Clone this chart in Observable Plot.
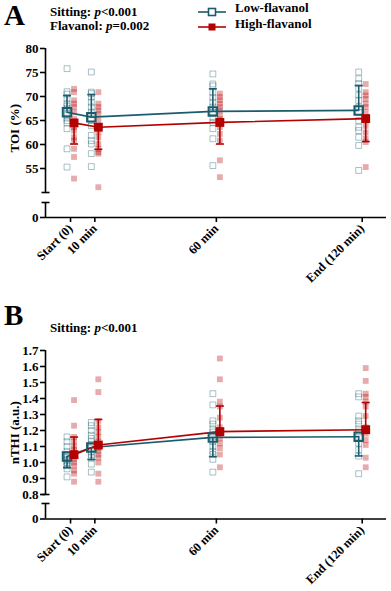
<!DOCTYPE html>
<html><head><meta charset="utf-8">
<script src="https://cdn.jsdelivr.net/npm/d3@7"></script>
<script src="https://cdn.jsdelivr.net/npm/@observablehq/plot@0.6"></script>
<style>
body{margin:0;background:#fff;}
#root{position:relative;width:391px;height:591px;font-family:"Liberation Serif","Times New Roman",serif;font-weight:bold;color:#000;overflow:hidden}
#root svg, #root svg text{font-family:"Liberation Serif","Times New Roman",serif !important;font-weight:bold}
.abs{position:absolute;white-space:nowrap;line-height:1}
.abs svg{display:block}
</style></head><body><div id="root"></div>
<script>
// ---------- data ----------
const times = [0, 10, 60, 120];
const timeLabels = ["Start (0)", "10 min", "60 min", "End (120 min)"];
const seriesNames = ["Low-flavanol", "High-flavanol"];

// Panel A: TOI (%)
const toiLowMean = [66.7, 65.7, 66.9, 67.1];
const toiLowSD = [3.5, 4.7, 4.7, 5.2];
const toiHighMean = [64.5, 63.6, 64.6, 65.4];
const toiHighSD = [4.4, 4.6, 4.5, 4.8];
const toiLowPoints = [
  [75.8, 71.0, 70.5, 69.5, 68.5, 68.0, 67.5, 66.5, 66.0, 65.5, 65.0, 64.5, 63.3, 59.1, 55.3],
  [75.1, 70.9, 70.6, 69.9, 68.8, 67.8, 66.7, 65.0, 63.9, 61.9, 60.8, 60.1, 58.1, 55.4],
  [74.7, 72.6, 72.2, 70.8, 69.8, 68.8, 67.8, 66.7, 65.6, 64.6, 63.3, 61.2, 55.6],
  [75.1, 73.7, 72.7, 71.7, 70.3, 69.2, 67.8, 66.7, 65.0, 63.6, 62.9, 61.5, 59.8, 54.6]
];
const toiHighPoints = [
  [71.6, 70.9, 69.2, 68.5, 67.8, 66.7, 65.3, 64.3, 63.6, 62.9, 61.5, 60.8, 59.1, 57.4, 52.9],
  [70.9, 68.5, 67.8, 67.1, 66.4, 65.0, 63.6, 62.6, 61.5, 60.1, 59.1, 58.4, 58.1, 51.1],
  [70.6, 69.9, 69.2, 68.5, 67.8, 67.1, 66.0, 65.3, 63.6, 62.2, 60.8, 56.7, 53.2],
  [72.6, 70.9, 70.2, 69.5, 68.5, 67.8, 66.7, 65.3, 63.9, 62.5, 61.2, 60.5, 55.3]
];
const toiTicks = [0, 55, 60, 65, 70, 75, 80];

// Panel B: nTHI (a.u.)
const nthiLowMean = [1.038, 1.094, 1.157, 1.161];
const nthiLowSD = [0.07, 0.075, 0.12, 0.12];
const nthiHighMean = [1.049, 1.109, 1.193, 1.205];
const nthiHighSD = [0.11, 0.16, 0.16, 0.17];
const nthiLowPoints = [
  [1.16, 1.13, 1.10, 1.07, 1.05, 1.04, 1.03, 1.02, 1.01, 1.00, 0.99, 0.98, 0.96, 0.91],
  [1.25, 1.23, 1.20, 1.17, 1.15, 1.13, 1.11, 1.09, 1.07, 1.05, 1.03, 0.99, 0.94],
  [1.43, 1.36, 1.26, 1.24, 1.21, 1.19, 1.16, 1.13, 1.10, 1.07, 1.05, 1.02, 0.94],
  [1.43, 1.41, 1.29, 1.26, 1.24, 1.21, 1.19, 1.16, 1.12, 1.08, 1.04, 0.93]
];
const nthiHighPoints = [
  [1.39, 1.23, 1.16, 1.13, 1.10, 1.08, 1.06, 1.05, 1.04, 1.02, 1.00, 0.98, 0.95, 0.93, 0.88],
  [1.52, 1.44, 1.26, 1.22, 1.19, 1.16, 1.13, 1.11, 1.09, 1.07, 1.05, 1.03, 1.00, 0.93, 0.88],
  [1.65, 1.52, 1.38, 1.35, 1.28, 1.22, 1.20, 1.18, 1.15, 1.12, 1.09, 1.05, 0.97],
  [1.59, 1.51, 1.43, 1.41, 1.38, 1.35, 1.29, 1.22, 1.18, 1.14, 1.11, 1.03, 0.97]
];
const nthiTicks = [0, 0.8, 0.9, 1.0, 1.1, 1.2, 1.3, 1.4, 1.5, 1.6, 1.7];

// ---------- style ----------
const BLUE = "#1b5c6c";
const RED = "#b30000";
const FONT = '"Liberation Serif","Times New Roman",serif';
const hbar = {draw(ctx) { ctx.moveTo(-4, 0); ctx.lineTo(4, 0); }};

function panel(o) {
  const xMin = -10.3, xMax = 130;
  const low = times.map((t, i) => ({t, mean: o.lowMean[i], end: o.lowMean[i] + o.lowDir * o.lowSD[i]}));
  const high = times.map((t, i) => ({t, mean: o.highMean[i], end: o.highMean[i] + o.highDir * o.highSD[i]}));
  const lowPts = times.flatMap((t, i) => o.lowPts[i].map(v => ({t, v})));
  const highPts = times.flatMap((t, i) => o.highPts[i].map(v => ({t, v})));
  const labelOf = new Map(times.map((t, i) => [t, timeLabels[i]]));
  const [d0, dBreak, dLow, dHigh] = o.yDomain;
  const axisSegs = [{y1: d0, y2: dBreak}, {y1: dLow, y2: dHigh}];
  const caps = [{y: dBreak}, {y: dLow}];
  return Plot.plot({
    width: 391, height: o.height,
    marginLeft: 45, marginRight: 5, marginTop: o.yRange[3], marginBottom: o.height - o.yRange[0],
    style: {fontFamily: FONT, fontSize: "13px", fontWeight: "bold", color: "#000", background: "transparent"},
    x: {type: "linear", domain: [xMin, xMax]},
    y: {type: "linear", domain: o.yDomain, range: o.yRange},
    marks: [
      // individual participants
      Plot.dot(lowPts, {x: "t", y: "v", dx: -3.5, symbol: "square", r: 3.3, fill: "none", stroke: BLUE, strokeOpacity: 0.38, strokeWidth: 1}),
      Plot.dot(highPts, {x: "t", y: "v", dx: 3.5, symbol: "square", r: 3.3, fill: RED, fillOpacity: 0.33, stroke: "none"}),
      // mean lines
      Plot.line(low, {x: "t", y: "mean", dx: -3.5, stroke: BLUE, strokeWidth: 1.6}),
      Plot.line(high, {x: "t", y: "mean", dx: 3.5, stroke: RED, strokeWidth: 1.6}),
      // one-sided SD bars
      Plot.ruleX(low, {x: "t", y1: "mean", y2: "end", dx: -3.5, stroke: BLUE, strokeWidth: 1.6}),
      Plot.dot(low, {x: "t", y: "end", dx: -3.5, symbol: hbar, r: 4, fill: "none", stroke: BLUE, strokeWidth: 1.6}),
      Plot.ruleX(high, {x: "t", y1: "mean", y2: "end", dx: 3.5, stroke: RED, strokeWidth: 1.6}),
      Plot.dot(high, {x: "t", y: "end", dx: 3.5, symbol: hbar, r: 4, fill: "none", stroke: RED, strokeWidth: 1.6}),
      // means
      Plot.dot(low, {x: "t", y: "mean", dx: -3.5, symbol: "square", r: 4.8, fill: "none", stroke: BLUE, strokeWidth: 2}),
      Plot.dot(high, {x: "t", y: "mean", dx: 3.5, symbol: "square", r: 5, fill: RED, stroke: "none"}),
      // broken y axis
      Plot.ruleX(axisSegs, {x: xMin, y1: "y1", y2: "y2", stroke: "#000", strokeWidth: 1.6}),
      Plot.dot(caps, {x: xMin, y: "y", symbol: hbar, r: 4, fill: "none", stroke: "#000", strokeWidth: 1.6}),
      Plot.axisY(o.ticks, {tickSize: 5, tickPadding: 2, tickFormat: o.tickFormat, label: null, fontSize: 13, fontWeight: "bold", strokeWidth: 1.6}),
      Plot.text([o.yLabel], {x: xMin, y: o.yLabelPos, dx: -31, rotate: -90, fontSize: 13, fontWeight: "bold", text: d => d}),
      // x axis
      Plot.ruleY([0], {stroke: "#000", strokeWidth: 1.6}),
      Plot.axisX(times, {tickSize: 5, tickPadding: 4, tickRotate: -45, tickFormat: d => labelOf.get(d), label: null, fontSize: 12.5, fontWeight: "bold", strokeWidth: 1.6})
    ]
  });
}

const root = document.getElementById("root");
function addDiv(html, left, top, size) {
  const d = document.createElement("div");
  d.className = "abs";
  d.style.left = left + "px"; d.style.top = top + "px"; d.style.fontSize = size + "px";
  d.innerHTML = html;
  root.appendChild(d);
  return d;
}
function placeSvg(svg, top) {
  const w = document.createElement("div");
  w.className = "abs"; w.style.left = "0px"; w.style.top = top + "px";
  w.appendChild(svg); root.appendChild(w);
}

placeSvg(panel({
  height: 300, yDomain: [0, 2, 50, 80], yRange: [217, 202, 192, 48],
  lowMean: toiLowMean, lowSD: toiLowSD, lowDir: 1,
  highMean: toiHighMean, highSD: toiHighSD, highDir: -1,
  lowPts: toiLowPoints, highPts: toiHighPoints,
  ticks: toiTicks, tickFormat: d => String(d), yLabel: "TOI (%)", yLabelPos: 63.4
}), 0);

placeSvg(panel({
  height: 291, yDomain: [0, 0.03, 0.8, 1.7], yRange: [218.5, 203, 194, 50],
  lowMean: nthiLowMean, lowSD: nthiLowSD, lowDir: -1,
  highMean: nthiHighMean, highSD: nthiHighSD, highDir: 1,
  lowPts: nthiLowPoints, highPts: nthiHighPoints,
  ticks: nthiTicks, tickFormat: d => d === 0 ? "0" : d.toFixed(1), yLabel: "nTHI (a.u.)", yLabelPos: 1.186
}), 300);

// panel letters and statistics
addDiv("A", 4, 1, 29);
addDiv("Sitting: <i>p</i>&lt;0.001", 50, 4.8, 13);
addDiv("Flavanol: <i>p</i>=0.002", 50, 19.1, 13);
addDiv("B", 4, 301, 29);
addDiv("Sitting: <i>p</i>&lt;0.001", 50, 321.4, 13);

// legend
function swatch(color, filled) {
  return `<svg width="28" height="10" style="display:inline-block;vertical-align:middle">
    <line x1="0" y1="5" x2="28" y2="5" stroke="${color}" stroke-width="1.6"/>
    <rect x="10.5" y="1.5" width="7" height="7" fill="${filled ? color : "#fff"}" stroke="${color}" stroke-width="${filled ? 0 : 1.6}"/>
  </svg>`;
}
addDiv(swatch(BLUE, false), 198, 4.3, 13);
addDiv(seriesNames[0], 235, 1.4, 13);
addDiv(swatch(RED, true), 198, 19.3, 13);
addDiv(seriesNames[1], 235, 17.4, 13);
</script></body></html>
